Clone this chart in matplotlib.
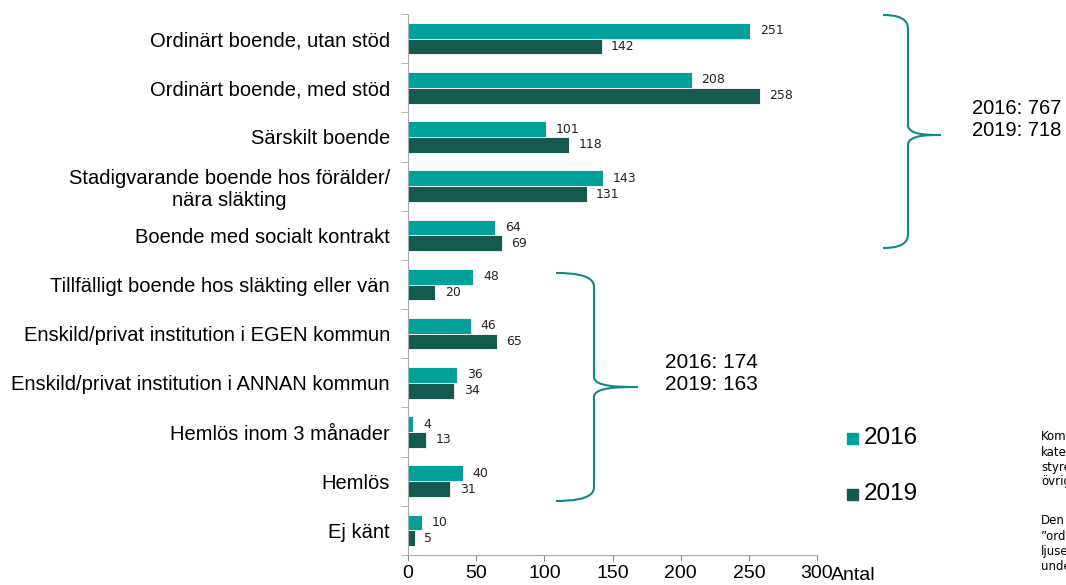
import matplotlib.pyplot as plt
import numpy as np
from matplotlib.path import Path
from matplotlib.patches import PathPatch

plt.rcParams['font.family'] = ['Liberation Sans', 'DejaVu Sans']

categories = [
    "Ordinärt boende, utan stöd",
    "Ordinärt boende, med stöd",
    "Särskilt boende",
    "Stadigvarande boende hos förälder/\nnära släkting",
    "Boende med socialt kontrakt",
    "Tillfälligt boende hos släkting eller vän",
    "Enskild/privat institution i EGEN kommun",
    "Enskild/privat institution i ANNAN kommun",
    "Hemlös inom 3 månader",
    "Hemlös",
    "Ej känt",
]
v2016 = [251, 208, 101, 143, 64, 48, 46, 36, 4, 40, 10]
v2019 = [142, 258, 118, 131, 69, 20, 65, 34, 13, 31, 5]
xticks = [0, 50, 100, 150, 200, 250, 300]
brace_texts = ["2016: 767\n2019: 718", "2016: 174\n2019: 163"]
note_lines = ["Kom", "kate", "styre", "övrig", "Den", "\u201dord", "ljuse", "unde"]

c2016 = "#00A19A"
c2019 = "#155A4F"

W, H = 1066, 585
fig = plt.figure(figsize=(W / 100, H / 100), dpi=100)
ax = fig.add_axes([408 / W, 1 - 555 / H, (817 - 408) / W, (555 - 14) / H])

y = np.arange(len(categories))
bh = 0.32
ax.barh(y - bh / 2, v2016, height=bh, color=c2016, edgecolor="white", linewidth=0.6)
ax.barh(y + bh / 2, v2019, height=bh, color=c2019, edgecolor="white", linewidth=0.6)

for yi, a, b in zip(y, v2016, v2019):
    ax.text(a + 7, yi - bh / 2, str(a), va="center", ha="left", fontsize=9,
            family="DejaVu Sans", color="#222222")
    ax.text(b + 7, yi + bh / 2, str(b), va="center", ha="left", fontsize=9,
            family="DejaVu Sans", color="#222222")

ax.set_ylim(len(categories) - 0.5, -0.5)
ax.set_xlim(0, 300)
ax.set_xticks(xticks)
ax.tick_params(axis="x", labelsize=14, colors="#888888", labelcolor="black",
               length=4, pad=3)

ax.set_yticks(y)
ax.set_yticklabels(categories, fontsize=14.5, multialignment="center")
ax.tick_params(axis="y", length=0, pad=13)
ax.set_yticks(np.arange(-0.5, len(categories), 1), minor=True)
ax.tick_params(axis="y", which="minor", length=5, color="#aaaaaa")

for s in ["top", "right"]:
    ax.spines[s].set_visible(False)
ax.spines["left"].set_color("#aaaaaa")
ax.spines["bottom"].set_color("#aaaaaa")

fig.text(831 / W, 1 - 575 / H, "Antal", fontsize=14, va="center", ha="left")


def brace(x0, xv, xt, yt, yb, ym):
    # coordinates in figure pixels (top-left origin)
    r = 10
    pts = [
        (x0, yt),
        (xv, yt), (xv, yt + r), (xv, yt + r * 1.5),
        (xv, ym - r),
        (xv, ym), (xt - (xt - xv) * 0.4, ym), (xt, ym),
        (xt - (xt - xv) * 0.4, ym), (xv, ym), (xv, ym + r),
        (xv, yb - r * 1.5),
        (xv, yb - r), (xv, yb), (x0, yb),
    ]
    codes = [Path.MOVETO,
             Path.CURVE4, Path.CURVE4, Path.CURVE4,
             Path.LINETO,
             Path.CURVE4, Path.CURVE4, Path.CURVE4,
             Path.CURVE4, Path.CURVE4, Path.CURVE4,
             Path.LINETO,
             Path.CURVE4, Path.CURVE4, Path.CURVE4]
    pts = [(px / W, 1 - py / H) for px, py in pts]
    p = PathPatch(Path(pts, codes), transform=fig.transFigure, fill=False,
                  edgecolor="#108A86", linewidth=1.5)
    fig.add_artist(p)


brace(883, 908, 941, 15, 248, 135)
brace(556, 594, 638, 273, 501, 387)

fig.text(972 / W, 1 - 120 / H, brace_texts[0], fontsize=14.5, va="center",
         ha="left", linespacing=1.2)
fig.text(711 / W, 1 - 373 / H, brace_texts[1], fontsize=15, va="center",
         ha="center", linespacing=1.2)

fig.patches.append(plt.Rectangle((847 / W, 1 - 444 / H), 11 / W, 11 / H,
                                 color=c2016, transform=fig.transFigure))
fig.patches.append(plt.Rectangle((847 / W, 1 - 500 / H), 11 / W, 11 / H,
                                 color=c2019, transform=fig.transFigure))
fig.text(864 / W, 1 - 438 / H, "2016", fontsize=17.5, va="center", ha="left")
fig.text(864 / W, 1 - 494 / H, "2019", fontsize=17.5, va="center", ha="left")

note_y = [437, 452, 467, 482, 520, 536, 551, 566]
for txt, ny in zip(note_lines, note_y):
    fig.text(1041 / W, 1 - ny / H, txt, fontsize=8.5, va="center", ha="left",
             family="DejaVu Sans")

fig.savefig("out.png", dpi=100)
